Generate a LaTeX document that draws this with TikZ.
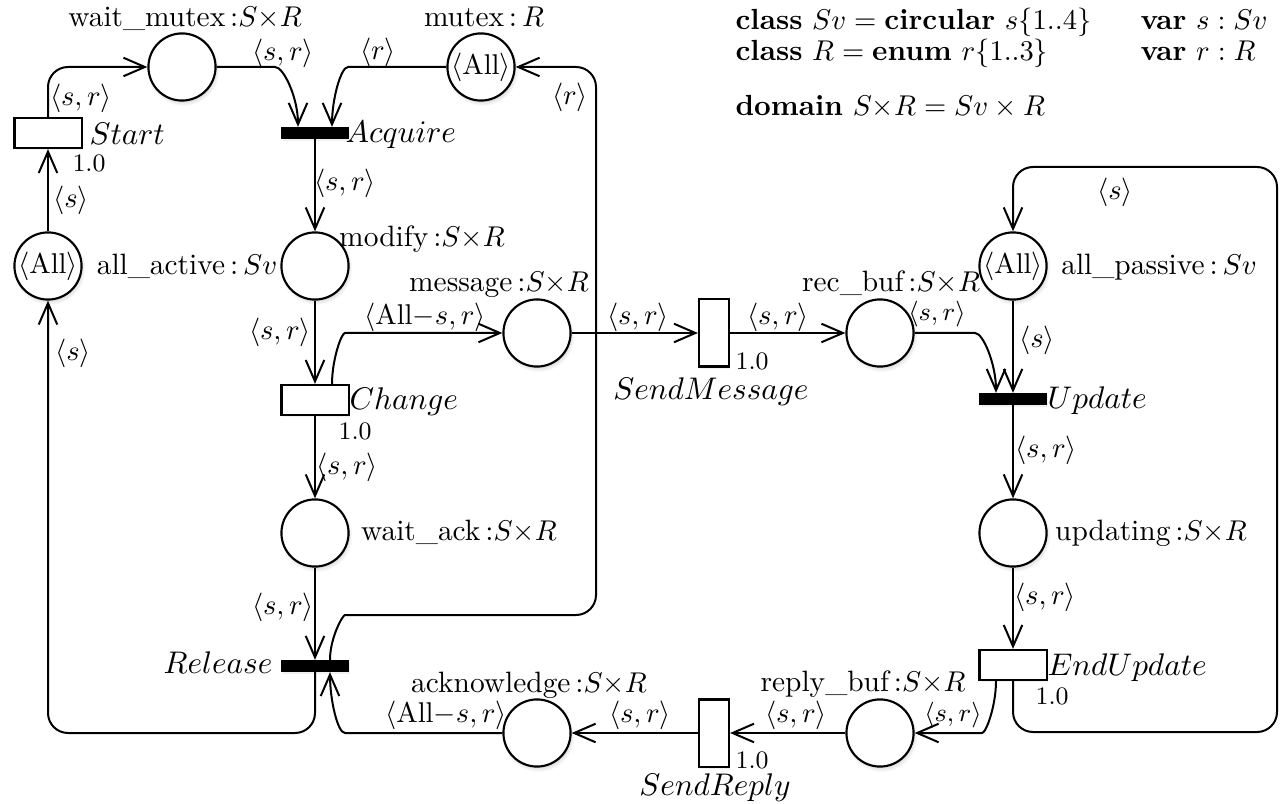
\documentclass[tikz,border=0pt]{standalone}
\usetikzlibrary{arrows.meta,calc,shadows}
\begin{document}
\begin{tikzpicture}[x=0.35pt,y=0.35pt,
  every node/.style={font=\fontsize{10.3}{12}\selectfont},
  place/.style={circle,draw,line width=0.75pt,minimum size=23.5pt,inner sep=0pt,fill=white,
    font=\fontsize{10.4}{12}\selectfont,
    circular drop shadow={shadow xshift=0.4pt,shadow yshift=-0.9pt,shadow scale=1.08,opacity=0.25}},
  trans/.style={rectangle,draw,line width=0.75pt,fill=white,minimum width=23.5pt,minimum height=10.5pt,inner sep=0pt,
    drop shadow={shadow xshift=0.4pt,shadow yshift=-0.8pt,opacity=0.12}},
  vtrans/.style={trans,minimum width=10.5pt,minimum height=23.5pt},
  bar/.style={rectangle,fill=black,minimum width=23.5pt,minimum height=3.9pt,inner sep=0pt,
    drop shadow={shadow xshift=0.4pt,shadow yshift=-0.8pt,opacity=0.12}},
  arc/.style={line width=0.7pt,-{Straight Barb[length=7.5pt,width=6.5pt]},rounded corners=7pt},
  lbl/.style={inner sep=0pt},
  alb/.style={inner sep=0pt,font=\fontsize{10}{12}\selectfont},
  salb/.style={inner sep=0pt,font=\fontsize{9.2}{11}\selectfont},
  tlb/.style={inner sep=0pt,font=\fontsize{11.3}{14}\selectfont},
  rate/.style={inner sep=0pt,anchor=base west,font=\fontsize{8.8}{11}\selectfont},
  hdr/.style={inner sep=0pt,anchor=base west,font=\fontsize{10.2}{12}\selectfont}
]
\useasboundingbox (0,0) rectangle (1288,-804);

% places
\node[place] (wm)  at (182,-67)  {};
\node[place] (mx)  at (481,-67)  {$\langle\mathrm{All}\rangle$};
\node[place] (aa)  at (48,-266)  {$\langle\mathrm{All}\rangle$};
\node[place] (md)  at (315,-266) {};
\node[place] (msg) at (537,-333) {};
\node[place] (rb)  at (880,-333) {};
\node[place] (ap)  at (1013,-266) {$\langle\mathrm{All}\rangle$};
\node[place] (wa)  at (315,-533) {};
\node[place] (up)  at (1013,-533) {};
\node[place] (ack) at (537,-733) {};
\node[place] (rpb) at (880,-733) {};

% transitions
\node[trans]  (st)  at (48,-133)  {};
\node[bar]    (acq) at (315,-133) {};
\node[trans]  (ch)  at (315,-400) {};
\node[vtrans] (sm)  at (714,-333) {};
\node[bar]    (upd) at (1013,-399) {};
\node[trans]  (eu)  at (1013,-665) {};
\node[bar]    (rel) at (315,-666) {};
\node[vtrans] (sr)  at (714,-733) {};

% arcs
\draw[arc] (st.north) -- (48,-67) -- (wm.west);
\draw[arc] (wm.east) -- (255,-67) to[out=0,in=90] ($(acq.north)+(-17,0)$);
\draw[arc] (mx.west) -- (368,-67) to[out=180,in=90] ($(acq.north)+(17,0)$);
\draw[arc] ($(rel.north)+(15,0)$) to[out=90,in=180] (365,-615) -- (596,-615) -- (596,-67) -- (mx.east);
\draw[arc] (ack.west) -- (365,-733) to[out=180,in=-90] ($(rel.south)+(15,0)$);
\draw[arc] (rel.south) -- (315,-733) -- (48,-733) -- (aa.south);
\draw[arc] (aa.north) -- (st.south);
\draw[arc] (acq.south) -- (md.north);
\draw[arc] (md.south) -- (ch.north);
\draw[arc] ($(ch.north)+(17,0)$) to[out=90,in=180] (365,-333) -- (msg.west);
\draw[arc] (msg.east) -- (sm.west);
\draw[arc] (sm.east) -- (rb.west);
\draw[arc] (rb.east) -- (955,-333) to[out=0,in=90] ($(upd.north)+(-17,0)$);
\draw[arc] (ap.south) -- (upd.north);
\draw[arc] (upd.south) -- (up.north);
\draw[arc] (up.south) -- (eu.north);
\draw[arc] (eu.south) -- (1013,-732) -- (1277,-732) -- (1277,-167) -- (1013,-167) -- (ap.north);
\draw[arc] ($(eu.south)+(-17,0)$) to[out=-90,in=0] (962,-733) -- (rpb.east);
\draw[arc] (rpb.west) -- (sr.east);
\draw[arc] (sr.west) -- (ack.east);
\draw[arc] (ch.south) -- (wa.north);
\draw[arc] (wa.south) -- (rel.north);

% place labels
\node[lbl,anchor=base] (lwm)  at (185,-27)  {wait\_mutex\,:$S{\times}R$};
\node[lbl,anchor=base] (lmx)  at (484,-27)  {mutex\,:\,$R$};
\node[lbl,anchor=base] (laa)  at (187,-275) {all\_active\,:\,$Sv$};
\node[lbl,anchor=base] (lmd)  at (422,-247) {modify\,:$S{\times}R$};
\node[lbl,anchor=base] (lmsg) at (499,-292) {message\,:$S{\times}R$};
\node[lbl,anchor=base] (lrb)  at (891,-292) {rec\_buf\,:$S{\times}R$};
\node[lbl,anchor=base] (lap)  at (1159,-275) {all\_passive\,:\,$Sv$};
\node[lbl,anchor=base] (lwa)  at (459,-540) {wait\_ack\,:$S{\times}R$};
\node[lbl,anchor=base] (lup)  at (1151,-540) {updating\,:$S{\times}R$};
\node[lbl,anchor=base] (lack) at (529,-692) {acknowledge\,:$S{\times}R$};
\node[lbl,anchor=base] (lrpb) at (863,-691) {reply\_buf\,:$S{\times}R$};

% transition labels
\node[tlb,anchor=base west] (tst)  at (89,-145)   {$Start$};
\node[tlb,anchor=base west] (tacq) at (345,-143)  {$Acquire$};
\node[tlb,anchor=base west] (tch)  at (349,-410)  {$Change$};
\node[tlb,anchor=base]      (tsm)  at (711,-400)  {$SendMessage$};
\node[tlb,anchor=base west] (tupd) at (1047,-409) {$Update$};
\node[tlb,anchor=base west] (teu)  at (1047,-675) {$EndUpdate$};
\node[tlb,anchor=base east] (trel) at (273,-673)  {$Release$};
\node[tlb,anchor=base]      (tsr)  at (715,-795)  {$SendReply$};

% firing rates
\node[rate] (rst) at (72,-172)   {1.0};
\node[rate] (rch) at (338,-440)  {1.0};
\node[rate] (rsm) at (735,-370)  {1.0};
\node[rate] (reu) at (1035,-704) {1.0};
\node[rate] (rsr) at (735,-768)  {1.0};

% arc inscriptions
\node[alb] (a1)  at (81,-98)   {$\langle s,r\rangle$};
\node[alb] (a2)  at (283,-53)  {$\langle s,r\rangle$};
\node[alb] (a3)  at (378,-52)  {$\langle r\rangle$};
\node[alb] (a4)  at (570,-97)  {$\langle r\rangle$};
\node[alb] (a5)  at (71,-200)  {$\langle s\rangle$};
\node[alb] (a6)  at (73,-353)  {$\langle s\rangle$};
\node[alb] (a7)  at (345,-183) {$\langle s,r\rangle$};
\node[alb] (a8)  at (280,-332) {$\langle s,r\rangle$};
\node[alb] (a9)  at (425,-317) {$\langle \mathrm{All}{-}s,r\rangle$};
\node[alb] (a10) at (638,-317) {$\langle s,r\rangle$};
\node[alb] (a11) at (778,-317) {$\langle s,r\rangle$};
\node[salb] (a12) at (937,-314) {$\langle s,r\rangle$};
\node[alb] (a13) at (1037,-340) {$\langle s\rangle$};
\node[alb] (a14) at (1115,-192) {$\langle s\rangle$};
\node[alb] (a15) at (1046,-450) {$\langle s,r\rangle$};
\node[alb] (a16) at (1045,-597) {$\langle s,r\rangle$};
\node[salb] (a17) at (953,-715) {$\langle s,r\rangle$};
\node[alb] (a18) at (796,-715) {$\langle s,r\rangle$};
\node[alb] (a19) at (640,-715) {$\langle s,r\rangle$};
\node[alb] (a20) at (446,-715) {$\langle \mathrm{All}{-}s,r\rangle$};
\node[alb] (a21) at (347,-467) {$\langle s,r\rangle$};
\node[alb] (a22) at (283,-607) {$\langle s,r\rangle$};

% declarations
\node[hdr] (h1) at (735,-30)  {\textbf{class} $Sv = \textbf{circular}\ s\{1..4\}$};
\node[hdr] (h2) at (735,-60.5) {\textbf{class} $R = \textbf{enum}\ r\{1..3\}$};
\node[hdr] (h3) at (1140,-30) {\textbf{var} $s : Sv$};
\node[hdr] (h4) at (1140,-60.5) {\textbf{var} $r : R$};
\node[hdr] (h5) at (735,-116) {\textbf{domain} $S{\times}R = Sv \times R$};
\end{tikzpicture}
\end{document}
